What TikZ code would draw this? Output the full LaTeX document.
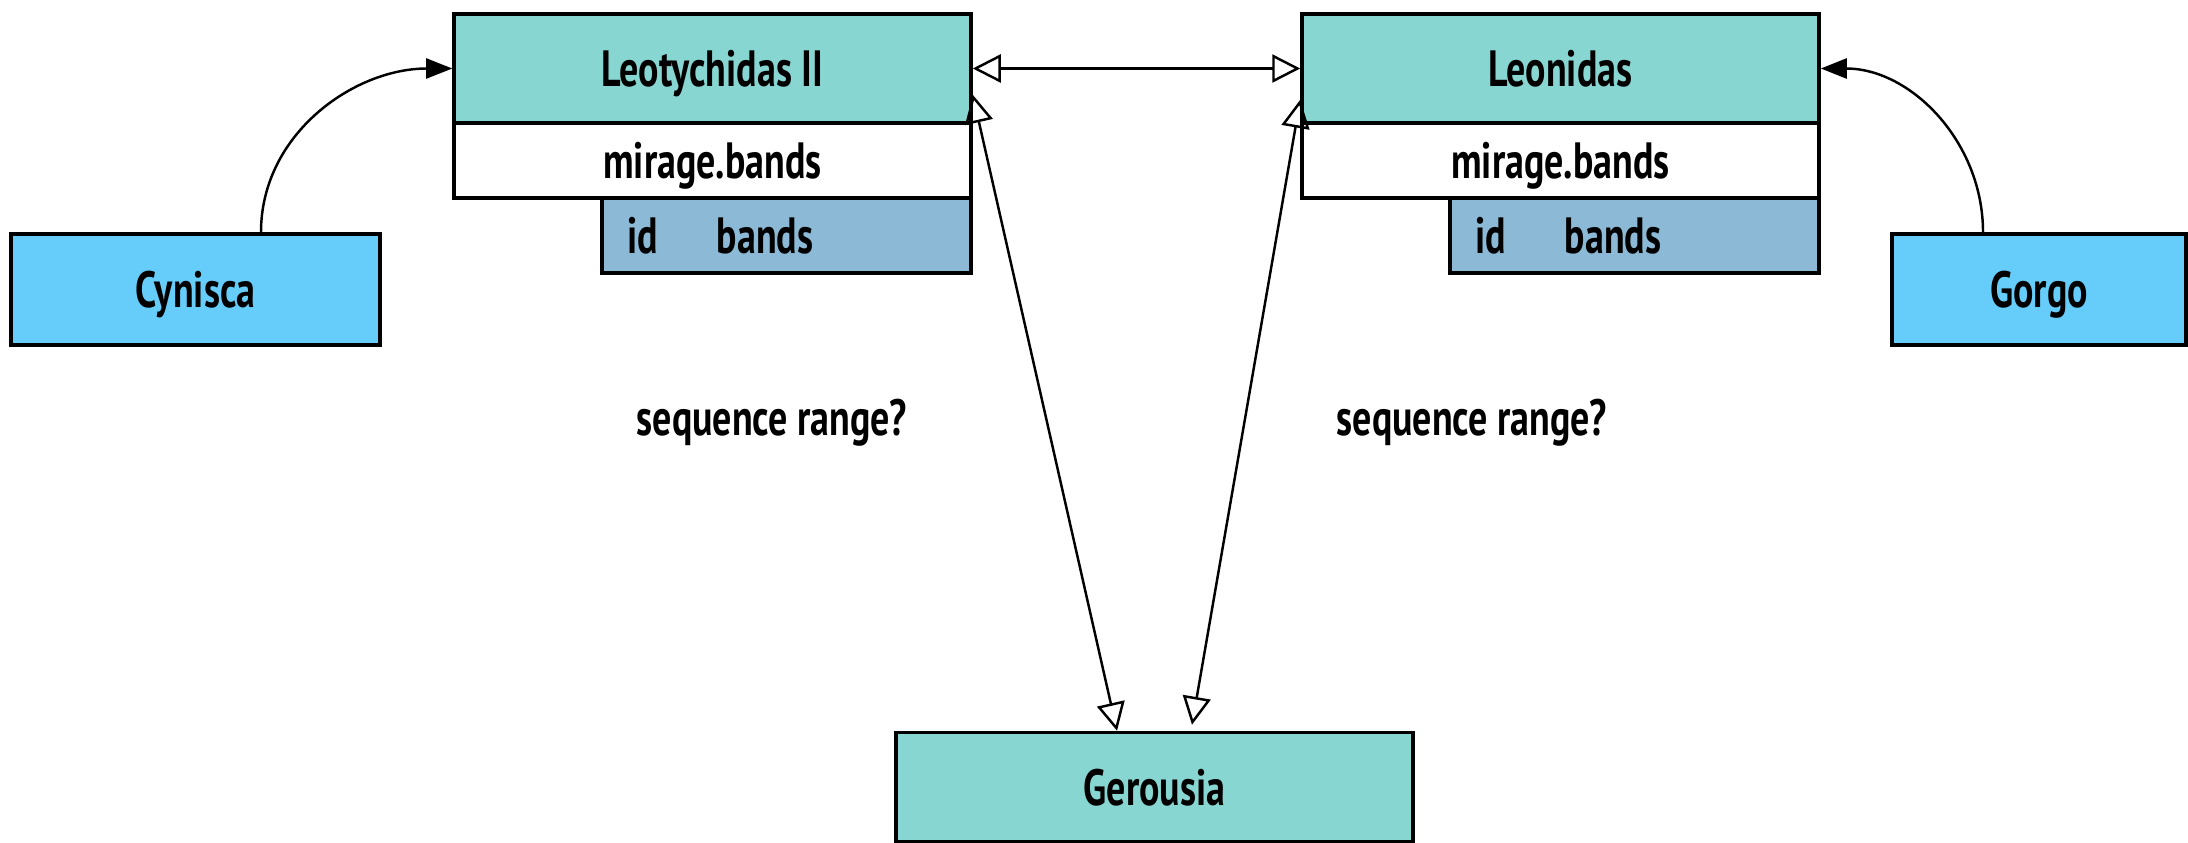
\documentclass[tikz,border=0pt]{standalone}
\usepackage{fontspec}
\setmainfont{PT Sans}[FakeStretch=0.745]
\usetikzlibrary{arrows.meta}
\definecolor{headteal}{HTML}{88D6D2}
\definecolor{userblue}{HTML}{66CCFA}
\definecolor{colblue}{HTML}{8BB9D6}
\begin{document}
\begin{tikzpicture}[font=\bfseries\fontsize{14.5}{17}\selectfont,inner sep=0pt,
  headnode/.style={draw,line width=1pt,fill=headteal,minimum width=5.17cm,minimum height=1.09cm,text height=0.36cm,text depth=0pt},
  tablenode/.style={draw,line width=1pt,fill=white,minimum width=5.17cm,minimum height=0.75cm,text height=0.36cm,text depth=0pt},
  colnode/.style={draw,line width=1pt,fill=colblue,minimum width=3.69cm,minimum height=0.75cm,text width=3.19cm,align=left,text height=0.36cm,text depth=0pt},
  usernode/.style={draw,line width=1pt,fill=userblue,minimum height=1.11cm,text height=0.36cm,text depth=0pt},
  twoway/.style={line width=0.7pt,{Triangle[open,length=0.28cm,width=0.28cm]}-{Triangle[open,length=0.28cm,width=0.28cm]}},
  oneway/.style={line width=0.7pt,-{Triangle[length=0.26cm,width=0.2cm]}}]
\useasboundingbox (0,0) rectangle (21.88,-8.43);
% kings
\node[headnode] (ltc) at (7.125,-0.685) {Leotychidas II};
\node[tablenode] (ltctab) at (7.125,-1.605) {mirage.bands};
\node[colnode] (ltccol) at (7.865,-2.355) {\makebox[0.9cm][l]{id}bands};
\node[headnode] (lnd) at (15.605,-0.685) {Leonidas};
\node[tablenode] (lndtab) at (15.605,-1.605) {mirage.bands};
\node[colnode] (lndcol) at (16.345,-2.355) {\makebox[0.9cm][l]{id}bands};
% queens and council
\node[usernode,minimum width=3.69cm] (cyn) at (1.955,-2.895) {Cynisca};
\node[usernode,minimum width=2.94cm] (grg) at (20.39,-2.895) {Gorgo};
\node[headnode] (ger) at (11.545,-7.87) {Gerousia};
\node (seqa) at (7.72,-4.23) {sequence range?};
\node (seqb) at (14.72,-4.23) {sequence range?};
% links
\draw[twoway] (ltc.east) -- (lnd.west);
\draw[twoway] ([yshift=0.3cm]ltc.south east) -- ([xshift=-0.375cm]ger.north);
\draw[twoway] ([yshift=0.25cm]lnd.south west) -- ([xshift=0.375cm,yshift=0.06cm]ger.north);
\draw[oneway] ([xshift=0.655cm]cyn.north) to[out=90,in=180] (ltc.west);
\draw[oneway] ([xshift=-0.56cm]grg.north) to[out=90,in=0] (lnd.east);
\end{tikzpicture}
\end{document}
